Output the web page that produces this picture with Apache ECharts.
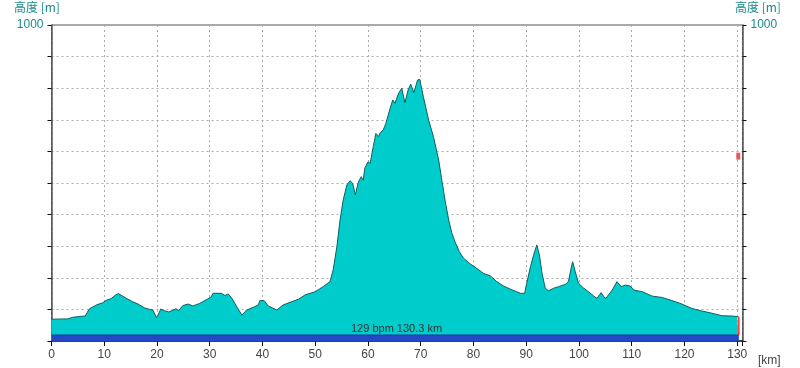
<!DOCTYPE html>
<html>
<head>
<meta charset="utf-8">
<script src="https://cdn.jsdelivr.net/npm/echarts@6/dist/echarts.min.js"></script>
<style>
html,body{margin:0;padding:0;background:#fff;}
#c{width:800px;height:368px;}
</style>
</head>
<body>
<div id="c"></div>
<script>
// distance along route [km]
var kmData = [0, 3.1, 4.0, 5.6, 6.4, 6.8, 7.2, 8.5, 9.7, 10.4, 11.3, 12.1, 12.7, 13.5, 14.5, 15.4, 16.4, 17.6, 18.6, 19.2, 19.5, 19.9, 20.2, 20.7, 21.4, 22.2, 23.0, 23.6, 24.1, 24.9, 25.9, 26.8, 28.1, 29.3, 30.3, 30.6, 32.2, 32.9, 33.5, 34.2, 35.1, 36.1, 37.0, 38.3, 39.2, 39.5, 40.3, 41.1, 42.7, 43.9, 45.5, 46.8, 48.1, 50.0, 51.5, 52.8, 53.4, 54.1, 54.7, 55.3, 56.0, 56.6, 57.1, 57.6, 58.1, 58.7, 59.1, 59.4, 60.0, 60.4, 61.0, 61.5, 62.0, 62.3, 62.9, 63.4, 64.1, 64.7, 65.1, 65.8, 66.4, 67.0, 67.6, 68.1, 68.7, 69.4, 69.8, 70.5, 71.5, 72.4, 73.4, 74.0, 74.6, 75.3, 75.9, 76.5, 77.3, 78.1, 79.4, 80.6, 81.9, 83.2, 84.4, 85.7, 87.0, 88.2, 88.9, 89.7, 90.1, 90.8, 91.4, 92.0, 92.5, 93.0, 93.6, 94.2, 95.2, 96.1, 97.4, 98.0, 98.5, 98.8, 99.3, 99.9, 100.9, 101.8, 102.8, 103.4, 104.2, 104.7, 105.1, 106.3, 107.2, 108.0, 108.8, 109.7, 110.4, 112.0, 113.9, 115.7, 117.6, 119.5, 121.4, 123.3, 125.2, 127.1, 129.0, 130.0, 130.3];
// elevation [m]
var elevData = [69, 70, 75, 78, 79, 91, 102, 114, 121, 129, 134, 145, 150, 142, 132, 124, 117, 105, 100, 98, 100, 74, 82, 101, 96, 92, 97, 102, 96, 112, 117, 111, 119, 130, 140, 151, 151, 144, 149, 135, 109, 82, 98, 107, 114, 128, 128, 111, 98, 114, 124, 132, 146, 156, 172, 188, 225, 298, 383, 446, 494, 507, 499, 462, 499, 520, 509, 547, 567, 562, 615, 657, 647, 659, 668, 689, 731, 763, 752, 784, 800, 754, 794, 813, 786, 826, 828, 773, 699, 647, 573, 509, 446, 383, 341, 314, 283, 262, 244, 230, 214, 206, 188, 174, 164, 156, 151, 151, 183, 235, 272, 304, 272, 214, 167, 159, 167, 172, 179, 188, 230, 251, 219, 183, 167, 156, 142, 135, 153, 140, 135, 161, 188, 172, 177, 174, 161, 156, 142, 138, 128, 117, 103, 95, 88, 80, 79, 77, 76];
// bottom info band (heart-rate strip)
var bandKm = [0, 130.3];
var bandTop = [19, 19];
// current position marker
var markerKm = [130.3, 130.3];
var markerElev = [19, 77];
var sideMarkKm = [130.2];
var sideMarkVal = [585];
var xTicks = [0, 10, 20, 30, 40, 50, 60, 70, 80, 90, 100, 110, 120, 130];
var yLabelShown = [1000];
var infoText = '129 bpm 130.3 km';

function pairs(a, b) { return a.map(function (v, i) { return [v, b[i]]; }); }

var chart = echarts.init(document.getElementById('c'), null, {renderer: 'canvas'});
var tealText = '#1a8a8a';
var yAxisCommon = {
  type: 'value', min: 0, max: 1000, interval: 100,
  axisLine: {show: true, lineStyle: {color: '#555', width: 1.5}},
  axisTick: {show: true, inside: false, length: 4, lineStyle: {color: '#111'}},
  axisLabel: {
    color: tealText, fontSize: 12, fontFamily: 'Liberation Sans, Arial, sans-serif', margin: 8,
    formatter: function (v) { return yLabelShown.indexOf(v) >= 0 ? String(v) : ''; }
  },
  splitLine: {show: true, lineStyle: {color: '#aaa', type: [2, 3], width: 1}}
};
var option = {
  backgroundColor: '#fff',
  animation: false,
  grid: {left: 51.5, right: 57.5, top: 25, bottom: 27, show: true, borderColor: '#555', borderWidth: 1, backgroundColor: '#fff'},
  xAxis: {
    type: 'value', min: 0, max: 131, interval: 10,
    axisLine: {show: true, lineStyle: {color: '#222', width: 1.5}},
    axisTick: {show: true, inside: false, length: 5, lineStyle: {color: '#111'}},
    axisLabel: {
      color: '#444', fontSize: 12, fontFamily: 'Liberation Sans, Arial, sans-serif', margin: 8,
      showMaxLabel: true,
      formatter: function (v) { return xTicks.indexOf(v) >= 0 ? String(v) : ''; }
    },
    splitLine: {show: true, lineStyle: {color: '#aaa', type: [2, 3], width: 1}}
  },
  yAxis: [
    Object.assign({position: 'left'}, yAxisCommon),
    Object.assign({position: 'right'}, yAxisCommon, {splitLine: {show: false}})
  ],
  graphic: [
    {type: 'text', left: 14, top: 1, style: {text: '高度 [m]', fill: tealText, font: '12px "Noto Sans CJK JP", sans-serif'}},
    {type: 'text', left: 735, top: 1, style: {text: '高度 [m]', fill: tealText, font: '12px "Noto Sans CJK JP", sans-serif'}},
    {type: 'text', left: 758, top: 355, style: {text: '[km]', fill: '#444', font: '12px "Liberation Sans", Arial, sans-serif'}},
    {type: 'text', left: 351, top: 323, z: 100, style: {text: infoText, fill: '#333', font: '11px "Liberation Sans", Arial, sans-serif'}}
  ],
  series: [
    {
      type: 'line', data: pairs(kmData, elevData), symbol: 'none', z: 2,
      lineStyle: {color: '#0d5f5f', width: 1},
      areaStyle: {color: '#00cccc', opacity: 1}
    },
    {
      type: 'line', data: pairs(bandKm, bandTop), symbol: 'none', z: 3,
      lineStyle: {color: '#1c3aa0', width: 1},
      areaStyle: {color: '#2349c6', opacity: 1}
    },
    {
      type: 'line', data: pairs(markerKm, markerElev), symbol: 'none', z: 4,
      lineStyle: {color: '#ff3030', width: 1.5}
    },
    {
      type: 'scatter', data: pairs(sideMarkKm, sideMarkVal), symbol: 'rect', symbolSize: [4, 7], z: 5,
      itemStyle: {color: '#e03535'}
    }
  ]
};
chart.setOption(option);
</script>
</body>
</html>
